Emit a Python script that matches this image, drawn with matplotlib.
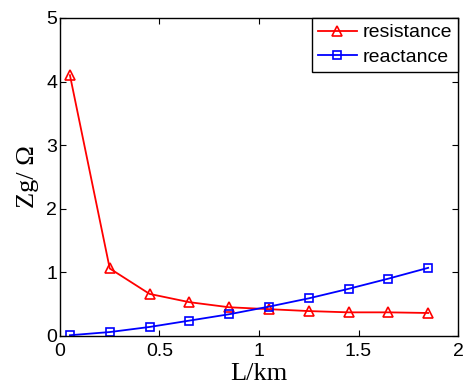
import matplotlib
matplotlib.use('Agg')
import matplotlib.pyplot as plt

# data
L_km = [0.05, 0.25, 0.45, 0.65, 0.85, 1.05, 1.25, 1.45, 1.65, 1.85]
resistance = [4.10, 1.06, 0.66, 0.53, 0.45, 0.42, 0.39, 0.37, 0.37, 0.36]
reactance = [0.01, 0.06, 0.14, 0.24, 0.34, 0.46, 0.59, 0.74, 0.90, 1.07]

plt.rcParams['font.family'] = ['Liberation Sans', 'DejaVu Sans']

fig = plt.figure(figsize=(4.65, 3.91), dpi=100)
ax = fig.add_axes([0.129, 0.141, 0.856, 0.813])

ax.plot(L_km, resistance, color='red', marker='^', markersize=7, mfc='none',
        mew=1.2, linewidth=1.3, label='resistance')
ax.plot(L_km, reactance, color='blue', marker='s', markersize=6, mfc='none',
        mew=1.2, linewidth=1.3, label='reactance')

ax.set_xlim(0, 2)
ax.set_ylim(0, 5)
ax.set_xticks([0, 0.5, 1, 1.5, 2])
ax.set_xticklabels(['0', '0.5', '1', '1.5', '2'])
ax.set_yticks([0, 1, 2, 3, 4, 5])
ax.tick_params(direction='in', top=True, right=True, labelsize=14, length=4)
ax.tick_params(axis='x', pad=5)
ax.tick_params(axis='y', pad=2)
for s in ax.spines.values():
    s.set_linewidth(1.0)

ax.set_xlabel('L/km', family=['Liberation Serif'], fontsize=19, labelpad=2)
ax.set_ylabel('Zg/ \u03a9', family=['Liberation Serif'], fontsize=19, labelpad=5)

leg = ax.legend(loc='upper right', fontsize=14, fancybox=False, framealpha=1,
                edgecolor='black', borderaxespad=0, handlelength=2.0,
                borderpad=0.3, labelspacing=0.35, handletextpad=0.3)
leg.get_frame().set_linewidth(1.0)

fig.savefig('out.png', dpi=100, facecolor='white')
